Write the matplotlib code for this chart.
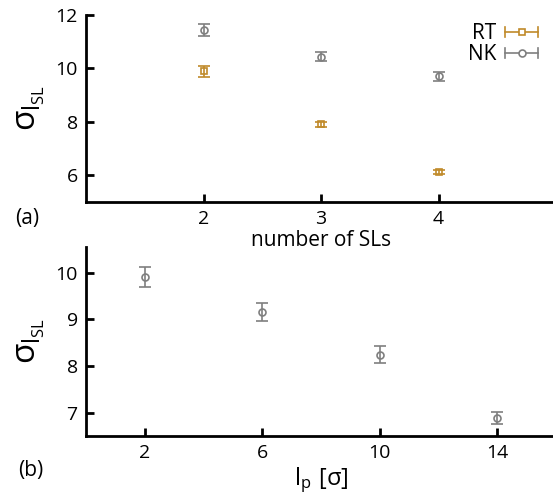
import matplotlib
matplotlib.use("Agg")
import matplotlib.pyplot as plt
from matplotlib.lines import Line2D
from matplotlib.legend_handler import HandlerBase

plt.rcParams['font.family'] = ['Open Sans', 'DejaVu Sans']
plt.rcParams['mathtext.default'] = 'regular'

# panel (a): sigma vs number of SLs
n_sl = [2, 3, 4]
rt_sigma = [9.89, 7.9, 6.12]
rt_err = [0.2, 0.08, 0.07]
nk_sigma = [11.42, 10.44, 9.70]
nk_err = [0.22, 0.17, 0.18]

# panel (b): sigma vs persistence length
lp = [2, 6, 10, 14]
lp_sigma = [9.91, 9.16, 8.24, 6.88]
lp_err = [0.22, 0.2, 0.18, 0.13]

rt_color = "#c08a2a"
nk_color = "#7f7f7f"


class HorizErrHandler(HandlerBase):
    # legend key drawn as a horizontal error bar with a marker in the middle
    def create_artists(self, legend, orig_handle, xdescent, ydescent,
                       width, height, fontsize, trans):
        c = orig_handle.get_markeredgecolor()
        m = orig_handle.get_marker()
        y = height / 2 - ydescent
        x0, x1 = -xdescent, width - xdescent
        cap = height * 0.35
        arts = [
            Line2D([x0, x1], [y, y], color=c, lw=1.2),
            Line2D([x0, x0], [y - cap, y + cap], color=c, lw=1.2),
            Line2D([x1, x1], [y - cap, y + cap], color=c, lw=1.2),
            Line2D([(x0 + x1) / 2], [y], marker=m, ms=5, mfc="white",
                   mec=c, mew=1.2, ls="none"),
        ]
        for a in arts:
            a.set_transform(trans)
        return arts


fig = plt.figure(figsize=(5.53, 4.96), dpi=100)
ax1 = fig.add_axes([0.1555, 0.593, 0.85, 0.377])
ax2 = fig.add_axes([0.1555, 0.121, 0.85, 0.381])
ax2.patch.set_alpha(0)

ax1.errorbar(n_sl, rt_sigma, yerr=rt_err, fmt="s", mfc="none", mec=rt_color,
             ecolor=rt_color, ms=5, mew=1.2, capsize=4, elinewidth=1.2,
             capthick=1.2)
ax1.errorbar(n_sl, nk_sigma, yerr=nk_err, fmt="o", mfc="none", mec=nk_color,
             ecolor=nk_color, ms=5, mew=1.2, capsize=4, elinewidth=1.2,
             capthick=1.2)
rt_key = Line2D([], [], marker="s", mec=rt_color, ls="none")
nk_key = Line2D([], [], marker="o", mec=nk_color, ls="none")
ax1.legend([rt_key, nk_key], ["RT", "NK"], loc="upper right", frameon=False,
           markerfirst=False, fontsize=15, handlelength=1.6,
           handletextpad=0.4, labelspacing=0.0, borderaxespad=0.0,
           bbox_to_anchor=(0.98, 1.0),
           handler_map={Line2D: HorizErrHandler()})

ax1.set_xlim(1, 5)
ax1.set_ylim(5, 12)
ax1.set_xticks([2, 3, 4])
ax1.set_yticks([6, 8, 10, 12])
ax1.set_xlabel("number of SLs", fontsize=15, labelpad=1)
ax1.set_ylabel(r"$\sigma_{l_{SL}}$", fontsize=24, labelpad=6)

ax2.errorbar(lp, lp_sigma, yerr=lp_err, fmt="o", mfc="none", mec=nk_color,
             ecolor=nk_color, ms=5, mew=1.2, capsize=4, elinewidth=1.2,
             capthick=1.2)
ax2.set_xlim(0, 16)
ax2.set_ylim(6.5, 10.55)
ax2.set_xticks([2, 6, 10, 14])
ax2.set_yticks([7, 8, 9, 10])
ax2.set_xlabel(r"$l_p\ [\sigma]$", fontsize=17, labelpad=2)
ax2.set_ylabel(r"$\sigma_{l_{SL}}$", fontsize=24, labelpad=6)

for ax in (ax1, ax2):
    for s in ("top", "right"):
        ax.spines[s].set_visible(False)
    for s in ("left", "bottom"):
        ax.spines[s].set_linewidth(2)
    ax.tick_params(direction="in", length=6, width=2, labelsize=14, pad=6)

fig.text(0.05, 0.56, "(a)", fontsize=15, va="center", ha="center")
fig.text(0.055, 0.052, "(b)", fontsize=15, va="center", ha="center")

fig.savefig("out.png", dpi=100)
